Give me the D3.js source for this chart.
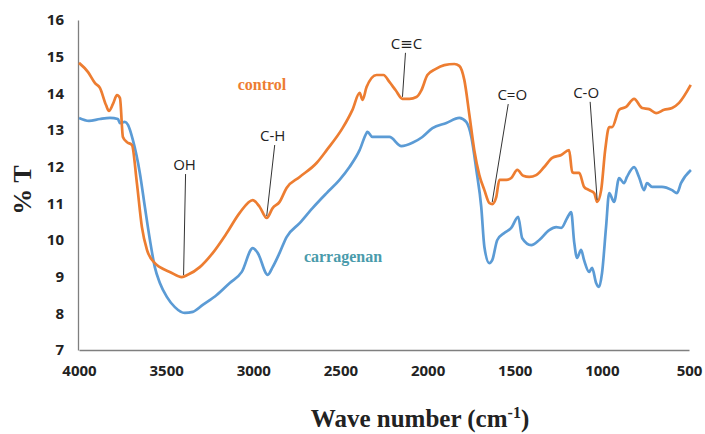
<!DOCTYPE html>
<html>
<head>
<meta charset="utf-8">
<script src="https://cdn.jsdelivr.net/npm/d3@7"></script>
<style>
body { margin: 0; background: #fff; }
svg { display: block; }
.tick text { font-family: "Open Sans", "DejaVu Sans", sans-serif; font-weight: bold; font-size: 15px; fill: #222; }
</style>
</head>
<body>
<script>
// wavenumbers (cm-1) and %T
var controlWave = [4000,3948,3908,3880,3845,3828,3805,3782,3765,3748,3725,3696,3668,3639,3610,3565,3536,3479,3410,3376,3307,3232,3152,3078,3003,2963,2923,2889,2849,2809,2734,2637,2579,2488,2431,2390,2373,2350,2293,2253,2219,2184,2144,2104,2064,2035,2001,1955,1904,1846,1818,1789,1760,1732,1703,1674,1646,1629,1606,1588,1548,1520,1485,1451,1417,1377,1331,1285,1233,1188,1170,1153,1130,1102,1073,1044,1027,1004,981,958,941,901,861,815,769,729,689,643,597,557,490];
var controlT = [14.83,14.58,14.28,14.15,13.68,13.52,13.71,13.95,13.87,12.81,12.67,12.59,11.56,10.35,9.73,9.37,9.26,9.13,8.99,9.05,9.26,9.65,10.19,10.74,11.09,10.9,10.6,10.87,11.04,11.42,11.72,12.1,12.45,13.05,13.55,14.01,13.82,14.17,14.5,14.5,14.31,14.09,13.85,13.85,13.9,14.09,14.5,14.66,14.77,14.8,14.75,14.36,13.41,12.45,11.77,11.36,11.01,10.98,11.17,11.64,11.64,11.69,11.91,11.75,11.72,11.77,11.99,12.24,12.32,12.45,11.85,11.83,11.83,11.45,11.36,11.28,11.04,11.36,12.45,13.08,13.08,13.55,13.63,13.85,13.6,13.57,13.46,13.55,13.6,13.74,14.23];

var carrWave = [4000,3943,3880,3822,3777,3765,3737,3719,3691,3651,3622,3593,3565,3536,3496,3450,3393,3347,3290,3210,3135,3066,3003,2975,2917,2889,2849,2809,2734,2660,2579,2505,2448,2390,2350,2345,2316,2276,2219,2150,2087,2030,1972,1892,1818,1778,1749,1720,1692,1674,1646,1629,1600,1560,1520,1480,1457,1405,1359,1302,1262,1233,1199,1176,1159,1142,1119,1102,1073,1056,1033,1016,999,976,958,930,901,873,856,815,787,758,741,712,655,597,569,546,489];
var carrT = [13.33,13.25,13.3,13.33,13.3,13.19,13.22,13.14,12.73,11.83,10.9,10.0,9.26,8.83,8.45,8.17,8.01,8.04,8.23,8.5,8.83,9.13,9.78,9.65,9.05,9.26,9.65,10.08,10.46,10.87,11.28,11.64,11.99,12.45,12.92,12.95,12.81,12.81,12.81,12.56,12.65,12.81,13.05,13.19,13.33,13.22,12.81,11.91,10.9,9.81,9.37,9.45,10.0,10.19,10.33,10.63,10.05,9.86,10.0,10.27,10.35,10.33,10.6,10.76,9.95,9.51,9.73,9.45,9.13,9.24,8.83,8.72,9.1,10.35,11.28,11.04,11.69,11.55,11.72,11.99,11.72,11.36,11.55,11.45,11.45,11.36,11.28,11.55,11.91];

var xTicks = [4000,3500,3000,2500,2000,1500,1000,500];
var yTicks = [7,8,9,10,11,12,13,14,15,16];

// band labels: text, wavenumber of the dip, %T at the dip
var bandLabels = ['OH','C-H','C\u2261C','C=O','C-O'];
var bandWave = [3400,2923,2144,1629,1027];
var bandT = [8.99,10.6,13.85,10.98,11.04];

var width = 705, height = 434;
var margin = {left: 78, right: 16, top: 20, bottom: 84};

var svg = d3.select('body').append('svg').attr('width', width).attr('height', height);

var x = d3.scaleLinear().domain([4000, 500]).range([margin.left + 1, width - margin.right]);
var y = d3.scaleLinear().domain([7, 16]).range([height - margin.bottom, margin.top]);

var xAxis = svg.append('g').attr('transform', 'translate(0,' + (height - margin.bottom) + ')')
	.call(d3.axisBottom(x).tickValues(xTicks).tickSize(0).tickPadding(15).tickFormat(d3.format('d')));
var yAxis = svg.append('g').attr('transform', 'translate(' + margin.left + ',0)')
	.call(d3.axisLeft(y).tickValues(yTicks).tickSize(0).tickPadding(14));
xAxis.select('.domain').attr('stroke', '#7f7f7f').attr('stroke-width', 1.3);
yAxis.select('.domain').attr('stroke', '#7f7f7f').attr('stroke-width', 1.3);

var line = d3.line().x(function(d) { return x(d[0]); }).y(function(d) { return y(d[1]); }).curve(d3.curveMonotoneX);

svg.append('path').datum(d3.zip(carrWave, carrT))
	.attr('fill', 'none').attr('stroke', '#5b9bd5').attr('stroke-width', 2.7).attr('stroke-linejoin', 'round')
	.attr('d', line);
svg.append('path').datum(d3.zip(controlWave, controlT))
	.attr('fill', 'none').attr('stroke', '#ed7d31').attr('stroke-width', 2.7).attr('stroke-linejoin', 'round')
	.attr('d', line);

// leader lines and labels, text offsets in px from the dip
var textOff = [[1, -107], [6, -77], [4, -50], [20, -104], [-11, -104]];
var lineTop = [[2, -103], [8, -73], [3, -46], [16, -100], [-7, -100]];
var bands = svg.append('g');
bandLabels.forEach(function(lbl, i) {
	var px = x(bandWave[i]), py = y(bandT[i]);
	bands.append('line')
		.attr('x1', px + lineTop[i][0]).attr('y1', py + lineTop[i][1])
		.attr('x2', px).attr('y2', py - 2)
		.attr('stroke', '#333').attr('stroke-width', 1);
	bands.append('text')
		.attr('x', px + textOff[i][0]).attr('y', py + textOff[i][1])
		.attr('text-anchor', 'middle')
		.style('font-family', '"Open Sans", "DejaVu Sans", sans-serif').style('font-size', '15px').style('fill', '#222')
		.text(lbl);
});

svg.append('text').attr('x', 262).attr('y', 90).attr('text-anchor', 'middle')
	.style('font-family', '"Liberation Serif", serif').style('font-weight', 'bold').style('font-size', '16px').style('fill', '#ed7d31')
	.text('control');
svg.append('text').attr('x', 343).attr('y', 262).attr('text-anchor', 'middle')
	.style('font-family', '"Liberation Serif", serif').style('font-weight', 'bold').style('font-size', '16px').style('fill', '#4a9bab')
	.text('carragenan');

// axis titles
svg.append('text').attr('transform', 'translate(31,190) rotate(-90)').attr('text-anchor', 'middle')
	.style('font-family', '"Liberation Serif", serif').style('font-weight', 'bold').style('font-size', '26px').style('fill', '#222')
	.text('% T');
var xt = svg.append('text').attr('x', 420).attr('y', 427).attr('text-anchor', 'middle')
	.style('font-family', '"Liberation Serif", serif').style('font-weight', 'bold').style('font-size', '25px').style('fill', '#222');
xt.append('tspan').text('Wave number (cm');
xt.append('tspan').attr('dy', -9).style('font-size', '16px').text('-1');
xt.append('tspan').attr('dy', 9).text(')');
</script>
</body>
</html>
